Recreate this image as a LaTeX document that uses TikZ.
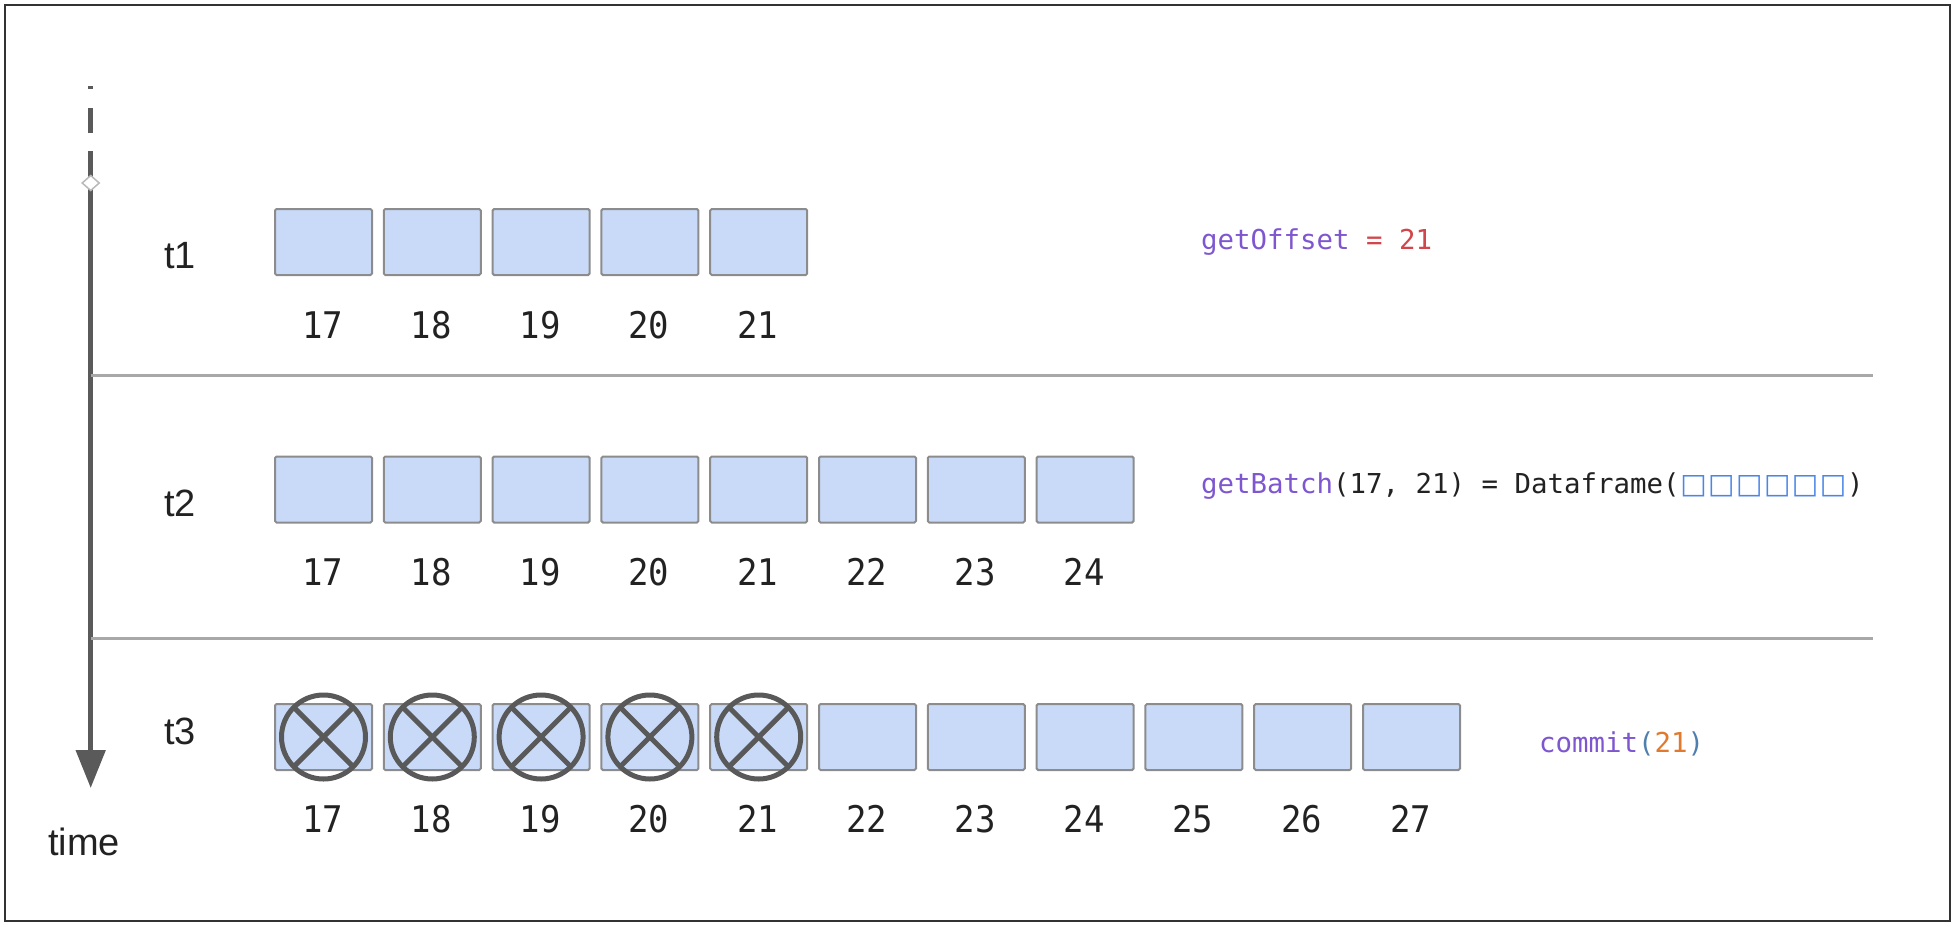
\documentclass[tikz,border=0pt]{standalone}
\usepackage{fontspec}
\setmainfont{Liberation Sans}
\newfontfamily\codefont{DejaVu Sans Mono}[WordSpace={1,0,0}]
\newfontfamily\symfont{DejaVu Sans}
\usetikzlibrary{arrows.meta}
\definecolor{cellfill}{HTML}{C9DAF8}
\definecolor{celldraw}{HTML}{8C8C8C}
\definecolor{axisgray}{HTML}{5A5A5A}
\definecolor{sepgray}{HTML}{A8A8A8}
\definecolor{crossgray}{HTML}{595959}
\definecolor{kwpurple}{HTML}{7E57D0}
\definecolor{numred}{HTML}{D2454A}
\definecolor{numorange}{HTML}{E07A2E}
\definecolor{parenblue}{HTML}{4F7FAF}
\definecolor{sqblue}{HTML}{4A86E8}
\definecolor{textdark}{HTML}{222222}
\definecolor{framegray}{HTML}{333333}
\newcommand{\sqglyph}{\makebox[27.9pt][c]{\symfont\fontsize{28}{28}\selectfont □}}
\newcommand{\tallnum}[1]{\scalebox{1}[1.08]{#1}}
\tikzset{
  cell/.style={draw=celldraw, line width=2pt, fill=cellfill, rounded corners=1.5pt,
    minimum width=97pt, minimum height=66pt, inner sep=0pt, anchor=north west},
  numlabel/.style={font=\codefont\fontsize{34}{40}\selectfont, text=textdark, anchor=base, inner sep=0pt},
  timelabel/.style={font=\fontsize{38}{44}\selectfont, text=textdark, anchor=base, inner sep=0pt},
  code/.style={font=\codefont\fontsize{27.4}{32}\selectfont, text=textdark, anchor=base west, inner sep=0pt},
  crossmark/.style={draw=crossgray, line width=5pt},
  sepline/.style={draw=sepgray, line width=3pt},
  axisline/.style={draw=axisgray, line width=5pt},
}
\begin{document}
\begin{tikzpicture}[x=1pt,y=-1pt]
\useasboundingbox (0,0) rectangle (1958,926);
\draw[line width=2pt, draw=framegray] (5,5) rectangle (1950,921);

% timeline
\coordinate (dotA) at (90.7,86);
\coordinate (dotB) at (90.7,89);
\coordinate (dashA) at (90.7,108);
\coordinate (dashB) at (90.7,133);
\coordinate (tltop) at (90.7,151);
\coordinate (tlend) at (90.7,788);
\draw[axisline] (dotA) -- (dotB);
\draw[axisline] (dashA) -- (dashB);
\draw[axisline, -{Triangle[length=38pt,width=29pt]}] (tltop) -- (tlend);
\draw[draw=gray!55, fill=white, line width=1.5pt] (82.2,183) -- (90.7,175.5) -- (99.2,183) -- (90.7,190.5) -- cycle;

% separators
\coordinate (sepAl) at (90.7,375);
\coordinate (sepAr) at (1873,375);
\coordinate (sepBl) at (90.7,638);
\coordinate (sepBr) at (1873,638);
\draw[sepline] (sepAl) -- (sepAr);
\draw[sepline] (sepBl) -- (sepBr);

% time labels
\node[timelabel] (t1) at (180,268) {t1};
\node[timelabel] (t2) at (180,516) {t2};
\node[timelabel] (t3) at (180,744) {t3};
\node[timelabel] (timelbl) at (84,855) {time};

% row 1
\foreach \k [evaluate=\k as \n using int(16+\k)] in {1,...,5} {
  \node[cell] (ra\k) at ({274+108.8*(\k-1)},208) {};
  \node[numlabel] (na\k) at ({322.5+108.8*(\k-1)},338) {\tallnum{\n}};
}
% row 2
\foreach \k [evaluate=\k as \n using int(16+\k)] in {1,...,8} {
  \node[cell] (rb\k) at ({274+108.8*(\k-1)},455.5) {};
  \node[numlabel] (nb\k) at ({322.5+108.8*(\k-1)},585) {\tallnum{\n}};
}
% row 3
\foreach \k [evaluate=\k as \n using int(16+\k)] in {1,...,11} {
  \node[cell] (rc\k) at ({274+108.8*(\k-1)},703) {};
  \node[numlabel] (nc\k) at ({322.5+108.8*(\k-1)},832) {\tallnum{\n}};
}
\foreach \k in {1,...,5} {
  \draw[crossmark] (rc\k.center) circle (42);
  \draw[crossmark] ([shift={(-29.7,-29.7)}]rc\k.center) -- ([shift={(29.7,29.7)}]rc\k.center);
  \draw[crossmark] ([shift={(-29.7,29.7)}]rc\k.center) -- ([shift={(29.7,-29.7)}]rc\k.center);
}

% code annotations
\node[code] (offset) at (1201,249) {\textcolor{kwpurple}{getOffset} \textcolor{numred}{= 21}};
\node[code] (batch) at (1201,493) {\textcolor{kwpurple}{getBatch}(17, 21) = Dataframe(\textcolor{sqblue}{\sqglyph\sqglyph\sqglyph\sqglyph\sqglyph\sqglyph})};
\node[code] (commit) at (1539,752) {\textcolor{kwpurple}{commit}\textcolor{parenblue}{(}\textcolor{numorange}{21}\textcolor{parenblue}{)}};
\end{tikzpicture}
\end{document}
